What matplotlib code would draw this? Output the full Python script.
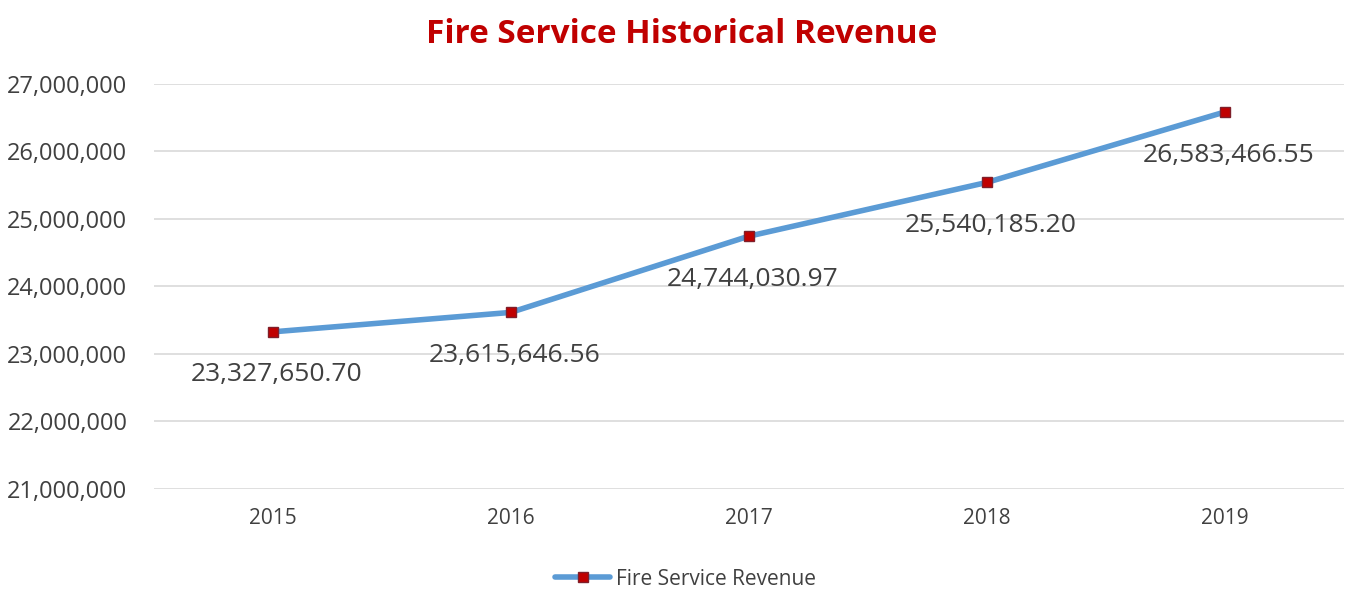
import matplotlib.pyplot as plt
from matplotlib.ticker import FuncFormatter

years = ["2015", "2016", "2017", "2018", "2019"]
revenue = [23327650.70, 23615646.56, 24744030.97, 25540185.20, 26583466.55]

plt.rcParams["font.family"] = ["Open Sans", "DejaVu Sans"]

fig = plt.figure(figsize=(13.49, 5.91), dpi=100)
ax = fig.add_axes([0.114, 0.1726, 0.882, 0.6854])

x = range(len(years))
ax.plot(x, revenue, color="#5B9BD5", lw=4, solid_capstyle="round",
        marker="s", markersize=7, markerfacecolor="#C00000",
        markeredgecolor="#7F1F2A", markeredgewidth=1,
        label="Fire Service Revenue", zorder=3)

for i, v in zip(x, revenue):
    ax.annotate(f"{v:,.2f}", (i, v), xytext=(3, -31), textcoords="offset points",
                ha="center", va="center", fontsize=19, color="#404040")

ax.set_xlim(-0.5, len(years) - 0.5)
ax.set_ylim(21000000, 27000000)
ax.set_yticks(range(21000000, 27000001, 1000000))
ax.yaxis.set_major_formatter(FuncFormatter(lambda v, p: f"{v:,.0f}"))
ax.set_xticks(list(x))
ax.set_xticklabels(years)

ax.grid(axis="y", color="#D9D9D9", lw=1.2)
ax.set_axisbelow(True)
for s in ax.spines.values():
    s.set_visible(False)
ax.tick_params(axis="y", length=0, labelsize=17, colors="#404040", pad=19)
ax.tick_params(axis="x", length=0, labelsize=15, colors="#404040", pad=14)

fig.suptitle("Fire Service Historical Revenue", x=0.505, y=0.97,
             fontsize=24, fontweight="bold", color="#C00000")

ax.legend(loc="upper center", bbox_to_anchor=(0.447, -0.15), frameon=False,
          fontsize=15, handlelength=2.6, handletextpad=0.3, labelcolor="#404040")

fig.savefig("out.png")
